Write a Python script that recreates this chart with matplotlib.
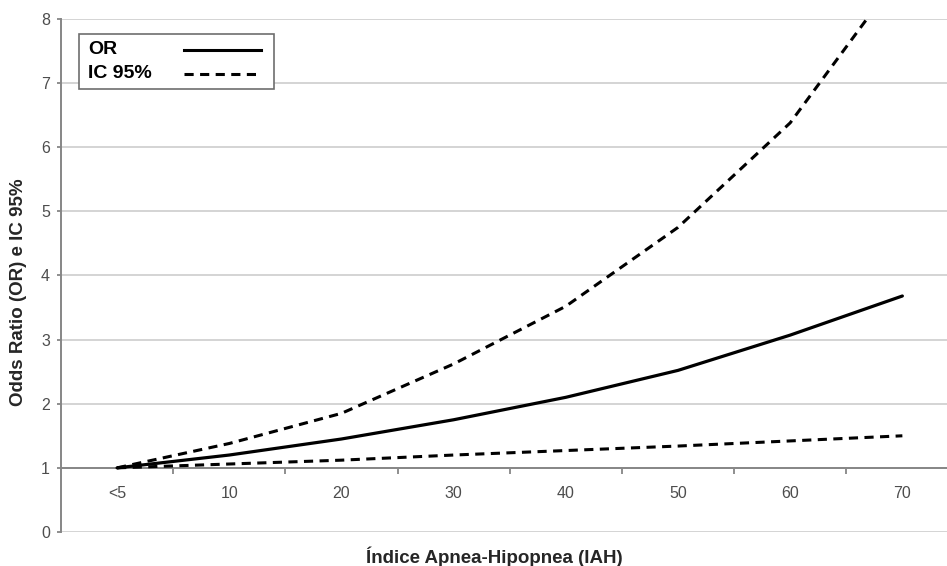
import numpy as np
import matplotlib.pyplot as plt
from matplotlib.patches import Rectangle

plt.rcParams['font.family'] = ['Liberation Sans', 'DejaVu Sans']

###################################################
# Data
###################################################

categories = ["<5", "10", "20", "30", "40", "50", "60", "70"]

odds_ratio = [1.00, 1.20, 1.45, 1.75, 2.10, 2.52, 3.07, 3.68]

ic_upper = [1.00, 1.38, 1.85, 2.62, 3.52, 4.75, 6.38, 8.75]

ic_lower = [1.00, 1.06, 1.12, 1.20, 1.27, 1.34, 1.42, 1.50]

y_ticks = [0, 1, 2, 3, 4, 5, 6, 7, 8]

legend_labels = ["OR", "IC 95%"]

###################################################
# Figure
###################################################

fig = plt.figure(figsize=(9.47, 5.66), dpi=100)

ax = fig.add_axes([0.0644, 0.0601, 0.9477, 0.9064])

x = np.arange(len(categories))

ax.plot(
    x,
    odds_ratio,
    color="black",
    linewidth=2.3,
    solid_capstyle="round",
    zorder=4
)

dash = (0, (3, 2.1))

ax.plot(
    x,
    ic_upper,
    color="black",
    linewidth=2.2,
    linestyle=dash,
    zorder=3
)

ax.plot(
    x,
    ic_lower,
    color="black",
    linewidth=2.2,
    linestyle=dash,
    zorder=3
)

ax.set_xlim(-0.5, len(categories) - 0.5)
ax.set_ylim(0, 8)

# gridlines
ax.set_yticks(y_ticks)
ax.yaxis.grid(True, color="#d4d4d4", linewidth=1.4)
ax.set_axisbelow(True)

# category axis crosses at y = 1
ax.spines["bottom"].set_position(("data", 1))
ax.spines["top"].set_visible(False)
ax.spines["right"].set_visible(False)
for side in ["left", "bottom"]:
    ax.spines[side].set_color("#868686")
    ax.spines[side].set_linewidth(1.4)

ax.set_xticks(x)
ax.set_xticklabels(categories)
ax.set_xticks(x[:-1] + 0.5, minor=True)

ax.tick_params(
    axis="x",
    which="major",
    length=0,
    pad=13,
    labelsize=11.5,
    labelcolor="#4d4d4d"
)
ax.tick_params(
    axis="x",
    which="minor",
    length=4,
    width=1.3,
    color="#868686"
)
ax.tick_params(
    axis="y",
    length=3,
    width=1.3,
    color="#868686",
    pad=5,
    labelsize=11.5,
    labelcolor="#4d4d4d"
)

# axis titles
fig.text(
    494 / 947,
    1 - 557 / 566,
    "Índice Apnea-Hipopnea (IAH)",
    ha="center",
    va="center",
    fontsize=13.5,
    fontweight="bold",
    color="#262626"
)

fig.text(
    19 / 947,
    1 - 292 / 566,
    "Odds Ratio (OR) e IC 95%",
    ha="center",
    va="center",
    rotation=90,
    fontsize=13.5,
    fontweight="bold",
    color="#262626"
)

###################################################
# Legend (label first, sample line on the right)
###################################################

ax.add_patch(
    Rectangle(
        (0.020, 0.864),
        0.217,
        0.107,
        transform=ax.transAxes,
        facecolor="white",
        edgecolor="#6e6e6e",
        linewidth=1.2,
        zorder=6
    )
)

legend_styles = ["-", dash]
legend_y = [0.940, 0.893]

for label, style, ly in zip(legend_labels, legend_styles, legend_y):

    ax.text(
        0.030,
        ly,
        label,
        transform=ax.transAxes,
        ha="left",
        va="center",
        fontsize=14,
        fontweight="bold",
        color="black",
        zorder=7
    )

    ax.plot(
        [0.137, 0.223],
        [ly, ly],
        transform=ax.transAxes,
        color="black",
        linewidth=2.2,
        linestyle=style,
        zorder=7
    )

fig.savefig("out.png", dpi=100)
